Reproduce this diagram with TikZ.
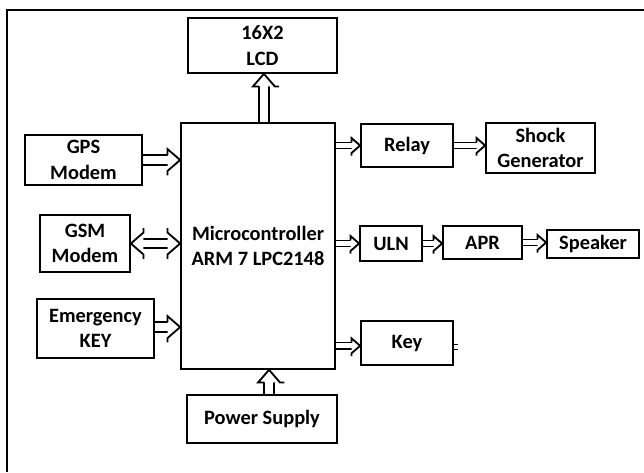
\documentclass[tikz,border=0pt]{standalone}
\usepackage{fontspec}
\setmainfont{Carlito}
\usetikzlibrary{arrows.meta,positioning,calc,decorations.markings}

% hollow head for the double shafts
\newcommand\dblhead[1]{%
  \begin{scope}[scale=#1]
  \fill[white] (-9pt,7.8pt) -- (0,0) -- (-9pt,-7.8pt) -- cycle;
  \draw[line width=1.3pt, line join=miter] (-9pt,3.35pt) -- (-9pt,7.8pt) -- (0,0) -- (-9pt,-7.8pt) -- (-9pt,-3.35pt);
  \end{scope}}

\begin{document}
\begin{tikzpicture}[
    blk/.style={draw, line width=1.2pt, minimum width=#1, align=center, inner sep=0pt, font=\bfseries\fontsize{14.5}{18}\selectfont},
    blk/.default=2cm,
    arr/.style={double, double distance=5.4pt, line width=1.3pt, shorten >=7.5pt,
      postaction={decorate, decoration={markings, mark=at position 1 with {\dblhead{1}}}}},
    barr/.style={arr, shorten <=7.5pt,
      postaction={decorate, decoration={markings, mark=at position 0 with {\dblhead{-1}}}}},
    sarr/.style={double, double distance=3.4pt, line width=1.1pt, shorten >=5pt,
      postaction={decorate, decoration={markings, mark=at position 1 with {\dblhead{0.68}}}}}
]
\useasboundingbox (0,0) rectangle (16.1,11.8);
% outer frame (only top and left edges show)
\draw[line width=2pt] (0.175,0) |- (16.1,11.55);

\node[blk=3.725cm, minimum height=1.375cm] (lcd) at (6.5625,10.6625) {16X2\\LCD};
\node[blk=3.85cm, minimum height=6.15cm] (mcu) at (6.45,5.65) {Microcontroller\\ARM 7 LPC2148};
\node[blk=2.925cm, minimum height=1.25cm] (gps) at (2.0875,7.8) {GPS\\Modem};
\node[blk=2.25cm, minimum height=1.425cm] (gsm) at (2.125,5.7125) {GSM\\Modem};
\node[blk=2.925cm, minimum height=1.475cm] (emg) at (2.3875,3.5875) {Emergency\\KEY};
\node[blk=3.75cm, minimum height=1.2cm] (pwr) at (6.55,1.325) {Power Supply};
\node[blk=2.3cm, minimum height=1.075cm] (relay) at (10.175,8.1625) {Relay};
\node[blk=2.725cm, minimum height=1.25cm] (shock) at (13.5125,8.1) {Shock\\Generator};
\node[blk=1.55cm, minimum height=0.875cm] (uln) at (9.775,5.7125) {ULN};
\node[blk=1.975cm, minimum height=0.825cm] (apr) at (12.0625,5.7375) {APR};
\node[blk=2.3cm, minimum height=0.7cm] (spk) at (14.825,5.7) {Speaker};
\node[blk=2.3cm, minimum height=1.1cm] (key) at (10.175,3.225) {Key};

% inputs
\draw[arr] (gps.east) -- (gps.east -| mcu.west);
\draw[barr] (gsm.east) -- (gsm.east -| mcu.west);
\draw[arr] ([yshift=1pt]emg.east) -- ([yshift=1pt]emg.east -| mcu.west);
\draw[arr] ([xshift=5pt]pwr.north) -- ([xshift=5pt]pwr.north |- mcu.south);
% outputs
\draw[arr] ([xshift=1pt]lcd.south |- mcu.north) -- ([xshift=1pt]lcd.south);
\draw[sarr] (mcu.east |- relay.west) -- (relay.west);
\draw[sarr] (relay.east) -- (relay.east -| shock.west);
\draw[sarr] (mcu.east |- uln.west) -- (uln.west);
\draw[sarr] (uln.east) -- (uln.east -| apr.west);
\draw[sarr] (apr.east) -- (apr.east -| spk.west);
\draw[sarr] ([yshift=-2pt]mcu.east |- key.west) -- ([yshift=-2pt]key.west);
% small tick on the key box
\draw[line width=0.8pt] ([yshift=-1pt]key.east) -- ++(0.1,0) ([yshift=-4.5pt]key.east) -- ++(0.1,0);
\end{tikzpicture}
\end{document}
